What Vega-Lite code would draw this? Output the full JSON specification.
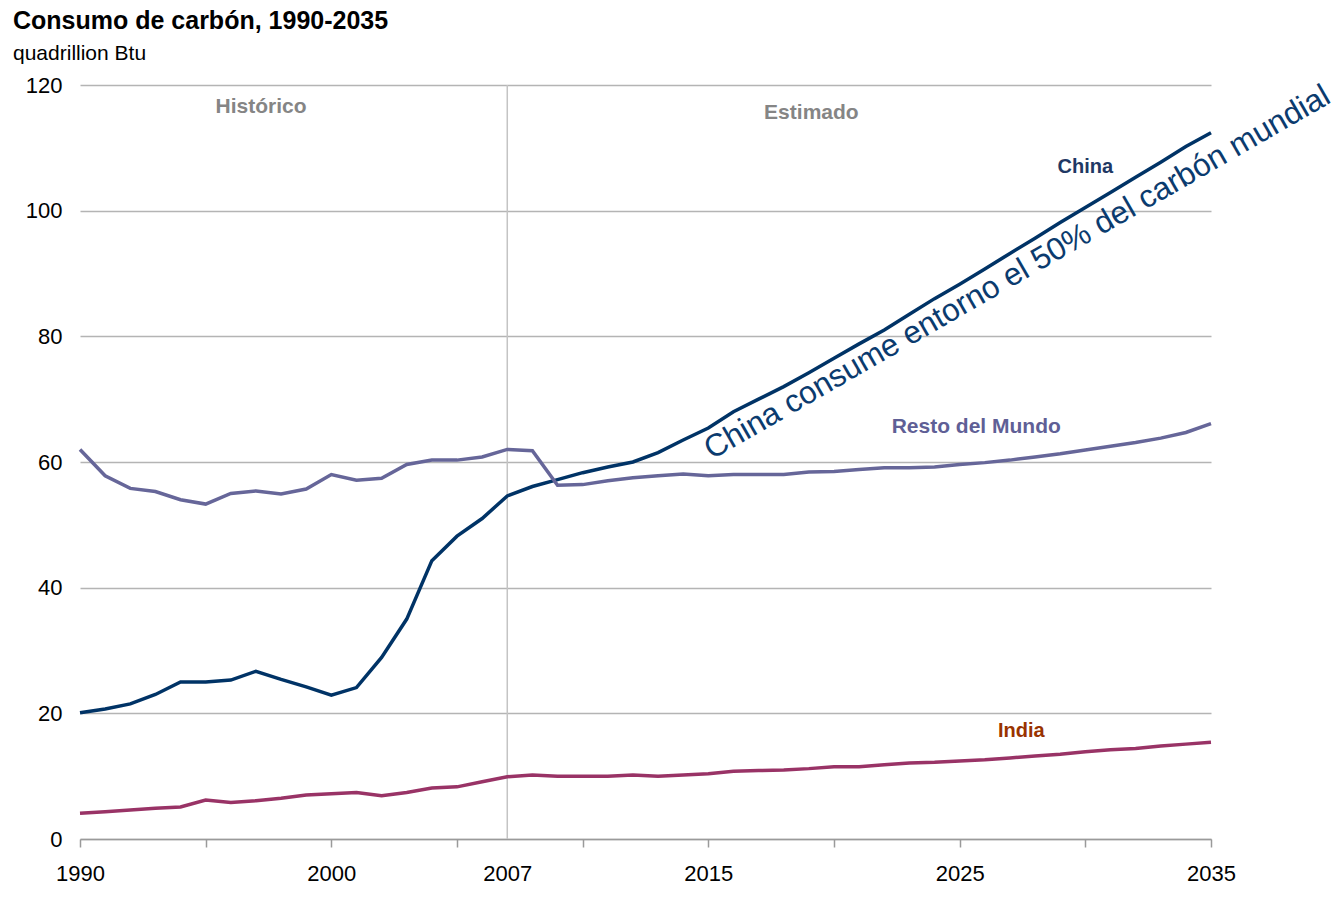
{
  "$schema": "https://vega.github.io/schema/vega-lite/v6.json",
  "width": 1131,
  "height": 754,
  "autosize": {"type": "none"},
  "padding": {"left": 80, "top": 85, "right": 127, "bottom": 84},
  "background": "white",
  "config": {"view": {"stroke": null}, "font": "Liberation Sans"},
  "title": {
    "text": "Consumo de carbón, 1990-2035",
    "subtitle": "quadrillion Btu",
    "anchor": "start",
    "frame": "group",
    "dx": -67,
    "offset": 10,
    "font": "Liberation Sans",
    "fontSize": 25,
    "fontWeight": "bold",
    "color": "black",
    "subtitleFont": "Liberation Sans",
    "subtitleFontSize": 21,
    "subtitleColor": "black",
    "subtitlePadding": 9
  },
  "datasets": {
    "coal": [
      {"year": 1990, "China": 20.1, "Resto del Mundo": 62.0, "India": 4.1},
      {"year": 1991, "China": 20.7, "Resto del Mundo": 57.8, "India": 4.35},
      {"year": 1992, "China": 21.5, "Resto del Mundo": 55.8, "India": 4.6},
      {"year": 1993, "China": 23.0, "Resto del Mundo": 55.3, "India": 4.9},
      {"year": 1994, "China": 25.0, "Resto del Mundo": 54.0, "India": 5.1},
      {"year": 1995, "China": 25.0, "Resto del Mundo": 53.3, "India": 6.2},
      {"year": 1996, "China": 25.3, "Resto del Mundo": 55.0, "India": 5.8},
      {"year": 1997, "China": 26.7, "Resto del Mundo": 55.4, "India": 6.1},
      {"year": 1998, "China": 25.4, "Resto del Mundo": 54.9, "India": 6.5},
      {"year": 1999, "China": 24.2, "Resto del Mundo": 55.7, "India": 7.0},
      {"year": 2000, "China": 22.9, "Resto del Mundo": 58.0, "India": 7.2},
      {"year": 2001, "China": 24.1, "Resto del Mundo": 57.1, "India": 7.4},
      {"year": 2002, "China": 28.9, "Resto del Mundo": 57.4, "India": 6.9},
      {"year": 2003, "China": 35.0, "Resto del Mundo": 59.6, "India": 7.4},
      {"year": 2004, "China": 44.3, "Resto del Mundo": 60.3, "India": 8.1},
      {"year": 2005, "China": 48.2, "Resto del Mundo": 60.3, "India": 8.3},
      {"year": 2006, "China": 51.0, "Resto del Mundo": 60.8, "India": 9.1},
      {"year": 2007, "China": 54.6, "Resto del Mundo": 62.0, "India": 9.9},
      {"year": 2008, "China": 56.1, "Resto del Mundo": 61.8, "India": 10.2},
      {"year": 2009, "China": 57.2, "Resto del Mundo": 56.3, "India": 10.0},
      {"year": 2010, "China": 58.3, "Resto del Mundo": 56.4, "India": 10.0},
      {"year": 2011, "China": 59.2, "Resto del Mundo": 57.0, "India": 10.0},
      {"year": 2012, "China": 60.0, "Resto del Mundo": 57.5, "India": 10.2},
      {"year": 2013, "China": 61.5, "Resto del Mundo": 57.8, "India": 10.0},
      {"year": 2014, "China": 63.5, "Resto del Mundo": 58.1, "India": 10.2},
      {"year": 2015, "China": 65.4, "Resto del Mundo": 57.8, "India": 10.4},
      {"year": 2016, "China": 68.0, "Resto del Mundo": 58.0, "India": 10.8},
      {"year": 2017, "China": 70.0, "Resto del Mundo": 58.0, "India": 10.9},
      {"year": 2018, "China": 72.0, "Resto del Mundo": 58.0, "India": 11.0},
      {"year": 2019, "China": 74.2, "Resto del Mundo": 58.4, "India": 11.2},
      {"year": 2020, "China": 76.5, "Resto del Mundo": 58.5, "India": 11.5},
      {"year": 2021, "China": 78.8, "Resto del Mundo": 58.8, "India": 11.5},
      {"year": 2022, "China": 81.0, "Resto del Mundo": 59.1, "India": 11.8},
      {"year": 2023, "China": 83.5, "Resto del Mundo": 59.1, "India": 12.1},
      {"year": 2024, "China": 86.0, "Resto del Mundo": 59.2, "India": 12.2},
      {"year": 2025, "China": 88.3, "Resto del Mundo": 59.6, "India": 12.4},
      {"year": 2026, "China": 90.7, "Resto del Mundo": 59.9, "India": 12.6},
      {"year": 2027, "China": 93.2, "Resto del Mundo": 60.3, "India": 12.9},
      {"year": 2028, "China": 95.6, "Resto del Mundo": 60.8, "India": 13.2},
      {"year": 2029, "China": 98.1, "Resto del Mundo": 61.3, "India": 13.5},
      {"year": 2030, "China": 100.5, "Resto del Mundo": 61.9, "India": 13.9},
      {"year": 2031, "China": 102.9, "Resto del Mundo": 62.5, "India": 14.2},
      {"year": 2032, "China": 105.3, "Resto del Mundo": 63.1, "India": 14.4},
      {"year": 2033, "China": 107.7, "Resto del Mundo": 63.8, "India": 14.8},
      {"year": 2034, "China": 110.2, "Resto del Mundo": 64.7, "India": 15.1},
      {"year": 2035, "China": 112.4, "Resto del Mundo": 66.1, "India": 15.4}
    ]
  },
  "layer": [
    {
      "data": {"values": [{"year": 2007}]},
      "mark": {"type": "rule", "color": "#c4c4c4", "strokeWidth": 1.5},
      "encoding": {
        "x": {"field": "year", "type": "quantitative"}
      }
    },
    {
      "data": {"name": "coal"},
      "transform": [
        {"fold": ["China", "Resto del Mundo", "India"], "as": ["series", "value"]}
      ],
      "mark": {"type": "line", "strokeWidth": 3.5},
      "encoding": {
        "x": {
          "field": "year",
          "type": "quantitative",
          "scale": {"domain": [1990, 2035], "nice": false, "zero": false},
          "axis": {
            "values": [1990, 1995, 2000, 2005, 2007, 2010, 2015, 2020, 2025, 2030, 2035],
            "format": "d",
            "labelExpr": "indexof([1990,2000,2007,2015,2025,2035], datum.value) >= 0 ? datum.label : ''",
            "tickOpacity": {"condition": {"test": "datum.value == 2007", "value": 0}, "value": 1},
            "grid": false,
            "domainColor": "#9a9a9a",
            "domainWidth": 1.5,
            "tickColor": "#9a9a9a",
            "tickWidth": 1.5,
            "tickSize": 8,
            "labelFont": "Liberation Sans",
            "labelFontSize": 22,
            "labelColor": "black",
            "labelPadding": 16,
            "labelFlush": false,
            "labelOverlap": false,
            "title": null
          }
        },
        "y": {
          "field": "value",
          "type": "quantitative",
          "scale": {"domain": [0, 120], "nice": false},
          "axis": {
            "values": [0, 20, 40, 60, 80, 100, 120],
            "grid": true,
            "gridColor": "#b4b4b4",
            "gridWidth": 1.5,
            "domain": false,
            "ticks": false,
            "tickSize": 0,
            "labelFont": "Liberation Sans",
            "labelFontSize": 22,
            "labelColor": "black",
            "labelPadding": 18,
            "title": null
          }
        },
        "color": {
          "field": "series",
          "type": "nominal",
          "scale": {"domain": ["China", "Resto del Mundo", "India"], "range": ["#003366", "#666699", "#993366"]},
          "legend": null
        },
        "detail": {"field": "series"}
      }
    },
    {
      "data": {"values": [{"year": 1997.2, "value": 116.5, "label": "Histórico"}, {"year": 2019.1, "value": 115.6, "label": "Estimado"}]},
      "mark": {"type": "text", "font": "Liberation Sans", "fontSize": 21, "fontWeight": "bold", "color": "#858585", "align": "center", "baseline": "middle"},
      "encoding": {
        "x": {"field": "year", "type": "quantitative"},
        "y": {"field": "value", "type": "quantitative"},
        "text": {"field": "label"}
      }
    },
    {
      "data": {"values": [{"year": 2030.0, "value": 107.0, "label": "China"}]},
      "mark": {"type": "text", "font": "Liberation Sans", "fontSize": 20, "fontWeight": "bold", "color": "#1f3864", "align": "center", "baseline": "middle"},
      "encoding": {
        "x": {"field": "year", "type": "quantitative"},
        "y": {"field": "value", "type": "quantitative"},
        "text": {"field": "label"}
      }
    },
    {
      "data": {"values": [{"year": 2025.66, "value": 65.6, "label": "Resto del Mundo"}]},
      "mark": {"type": "text", "font": "Liberation Sans", "fontSize": 21, "fontWeight": "bold", "color": "#5f5f96", "align": "center", "baseline": "middle"},
      "encoding": {
        "x": {"field": "year", "type": "quantitative"},
        "y": {"field": "value", "type": "quantitative"},
        "text": {"field": "label"}
      }
    },
    {
      "data": {"values": [{"year": 2027.45, "value": 17.2, "label": "India"}]},
      "mark": {"type": "text", "font": "Liberation Sans", "fontSize": 20, "fontWeight": "bold", "color": "#993300", "align": "center", "baseline": "middle"},
      "encoding": {
        "x": {"field": "year", "type": "quantitative"},
        "y": {"field": "value", "type": "quantitative"},
        "text": {"field": "label"}
      }
    },
    {
      "data": {"values": [{"year": 2015.14, "value": 60.3, "label": "China consume entorno el 50% del carbón mundial"}]},
      "mark": {"type": "text", "font": "Liberation Sans", "fontSize": 31.6, "color": "#0b3b6e", "align": "left", "baseline": "alphabetic", "angle": 330},
      "encoding": {
        "x": {"field": "year", "type": "quantitative"},
        "y": {"field": "value", "type": "quantitative"},
        "text": {"field": "label"}
      }
    }
  ]
}
